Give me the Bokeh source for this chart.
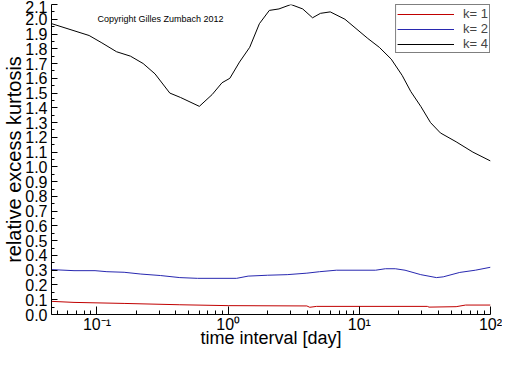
from bokeh.plotting import figure
from bokeh.models import FixedTicker, Legend, LegendItem, Label, CustomJSTickFormatter
from bokeh.embed import file_html
from bokeh.resources import INLINE

# k = 4 (black)
x_k4 = [0.0452, 0.0871, 0.109, 0.141, 0.180, 0.225, 0.277, 0.359, 0.434, 0.603,
        0.755, 0.898, 1.03, 1.22, 1.46, 1.73, 2.06, 2.44, 3.01, 3.70, 4.40, 5.05,
        6.0, 7.77, 11.6, 14.2, 17.5, 21.2, 24.7, 29.4, 34.9, 41.5, 54.7, 73.4, 100.0]
y_k4 = [1.97, 1.89, 1.84, 1.78, 1.75, 1.70, 1.63, 1.50, 1.47, 1.41,
        1.49, 1.57, 1.60, 1.71, 1.81, 1.97, 2.06, 2.07, 2.10, 2.07, 2.01, 2.04,
        2.05, 2.00, 1.87, 1.81, 1.73, 1.62, 1.51, 1.41, 1.30, 1.23, 1.17, 1.10, 1.04]

# k = 2 (blue)
x_k2 = [0.0452, 0.0668, 0.0966, 0.119, 0.161, 0.216, 0.304, 0.428, 0.584, 1.16,
        1.42, 2.00, 2.82, 3.98, 4.98, 6.68, 13.3, 15.8, 18.8, 22.3, 29.4, 38.7,
        43.6, 58.3, 76.6, 100.0]
y_k2 = [0.304, 0.297, 0.297, 0.290, 0.286, 0.274, 0.264, 0.250, 0.245, 0.245,
        0.260, 0.266, 0.270, 0.280, 0.290, 0.300, 0.300, 0.310, 0.310, 0.300, 0.270, 0.250,
        0.255, 0.285, 0.300, 0.320]

# k = 1 (red)
x_k1 = [0.0452, 0.0668, 0.161, 0.428, 1.01, 3.98, 4.19, 4.72, 33.0, 34.0, 54.7, 64.6, 100.0]
y_k1 = [0.089, 0.082, 0.075, 0.066, 0.060, 0.058, 0.049, 0.055, 0.055, 0.050, 0.053, 0.064, 0.064]

y_ticks = [round(0.1 * i, 1) for i in range(22)]
y_minor = [round(0.05 + 0.1 * i, 2) for i in range(21)]
x_major = [0.1, 1, 10, 100]
x_minor = [m * 10.0 ** e for e in range(-2, 2) for m in range(2, 10)]
x_labels = {0.1: "10\u207b\u00b9", 1: "10\u2070", 10: "10\u00b9", 100: "10\u00b2"}

p = figure(width=502, height=350, x_axis_type="log",
           x_range=(0.045, 100), y_range=(0, 2.1),
           output_backend="svg", toolbar_location=None,
           min_border_left=0, min_border_right=12, min_border_top=4, min_border_bottom=0)
p.outline_line_color = None
p.grid.visible = False
p.background_fill_color = "white"

r1 = p.line(x_k1, y_k1, line_color="#c00000", line_width=1)
r2 = p.line(x_k2, y_k2, line_color="#2828b0", line_width=1)
r4 = p.line(x_k4, y_k4, line_color="black", line_width=1)

# y axis
p.yaxis.ticker = FixedTicker(ticks=y_ticks, minor_ticks=y_minor)
p.yaxis.formatter = CustomJSTickFormatter(code="return tick.toFixed(1);")
p.yaxis.major_tick_in = 6
p.yaxis.major_tick_out = 0
p.yaxis.minor_tick_in = 3
p.yaxis.minor_tick_out = 0
p.yaxis.major_label_standoff = 4
p.yaxis.major_label_text_font = "Liberation Sans"
p.yaxis.major_label_text_font_size = "16px"
p.yaxis.axis_label = "relative excess kurtosis"
p.yaxis.axis_label_text_font = "Liberation Sans"
p.yaxis.axis_label_text_font_size = "20px"
p.yaxis.axis_label_text_font_style = "normal"
p.yaxis.axis_label_standoff = -3

# x axis
p.xaxis.ticker = FixedTicker(ticks=x_major, minor_ticks=x_minor)
p.xaxis.major_label_overrides = x_labels
p.xaxis.major_tick_in = 8
p.xaxis.major_tick_out = 0
p.xaxis.minor_tick_in = 4
p.xaxis.minor_tick_out = 0
p.xaxis.major_label_standoff = 1
p.xaxis.major_label_text_font = "Liberation Sans"
p.xaxis.major_label_text_font_size = "16px"
p.xaxis.axis_label = "time interval [day]"
p.xaxis.axis_label_text_font = "Liberation Sans"
p.xaxis.axis_label_text_font_size = "18px"
p.xaxis.axis_label_text_font_style = "normal"
p.xaxis.axis_label_standoff = -8

for ax in (p.xaxis, p.yaxis):
    ax.axis_line_color = "black"
    ax.major_tick_line_color = "black"
    ax.minor_tick_line_color = "black"
    ax.major_label_text_color = "black"
    ax.axis_label_text_color = "black"

legend = Legend(items=[LegendItem(label="k= 1", renderers=[r1]),
                       LegendItem(label="k= 2", renderers=[r2]),
                       LegendItem(label="k= 4", renderers=[r4])],
                location="top_right", margin=0, padding=1, spacing=0,
                glyph_width=57, glyph_height=14, label_height=14,
                label_standoff=9, label_text_line_height=1.0,
                border_line_color="black", border_line_width=1,
                background_fill_color="white", background_fill_alpha=1.0,
                label_text_font="Liberation Sans", label_text_font_size="13px")
p.add_layout(legend)

p.add_layout(Label(x=46, y=291, x_units="screen", y_units="screen",
                   text="Copyright Gilles Zumbach 2012",
                   text_font="Liberation Sans", text_font_size="9px",
                   text_color="black"))

open("out.html", "w").write(file_html(p, INLINE))
